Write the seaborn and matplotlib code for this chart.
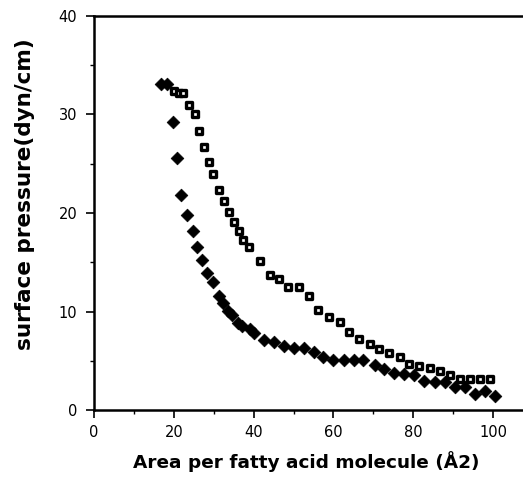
import matplotlib
matplotlib.use("Agg")
import matplotlib.pyplot as plt
import seaborn as sns
import pandas as pd
from matplotlib.ticker import MultipleLocator

# Filled diamonds series
area_a = [16.8, 18.2, 19.7, 20.8, 21.9, 23.4, 24.8, 25.8, 27.1, 28.4, 29.9, 31.2, 32.3,
          33.5, 34.6, 36.0, 37.1, 39.1, 40.0, 42.5, 45.0, 47.7, 50.1, 52.5, 55.1, 57.5,
          60.0, 62.6, 65.1, 67.4, 70.3, 72.7, 75.1, 77.6, 80.2, 82.7, 85.5, 87.9, 90.5,
          93.0, 95.5, 98.0, 100.4]
press_a = [33.1, 33.1, 29.2, 25.6, 21.8, 19.8, 18.2, 16.5, 15.2, 13.9, 13.0, 11.6, 10.9,
           10.05, 9.6, 8.8, 8.5, 8.2, 7.8, 7.1, 6.9, 6.5, 6.3, 6.3, 5.9, 5.4,
           5.1, 5.1, 5.1, 5.1, 4.6, 4.2, 3.8, 3.7, 3.6, 2.9, 2.8, 2.8, 2.3,
           2.3, 1.6, 1.9, 1.45]

# Open squares series
area_b = [20.1, 21.2, 22.4, 23.9, 25.3, 26.4, 27.6, 28.7, 29.9, 31.4, 32.7, 33.9, 35.0,
          36.3, 37.4, 38.8, 41.5, 44.0, 46.3, 48.7, 51.3, 53.8, 56.1, 58.9, 61.6, 63.9,
          66.4, 69.1, 71.4, 73.9, 76.6, 79.0, 81.4, 84.2, 86.7, 89.1, 91.7, 94.3, 96.7, 99.2]
press_b = [32.4, 32.2, 32.2, 31.0, 30.0, 28.3, 26.7, 25.2, 24.0, 22.3, 21.2, 20.1, 19.1,
           18.2, 17.3, 16.5, 15.1, 13.7, 13.3, 12.5, 12.5, 11.6, 10.2, 9.4, 8.9, 7.9,
           7.2, 6.7, 6.2, 5.8, 5.35, 4.7, 4.5, 4.3, 4.0, 3.6, 3.1, 3.1, 3.1, 3.1]

x_ticks = [0, 20, 40, 60, 80, 100]
y_ticks = [0, 10, 20, 30, 40]

sns.set_style("ticks")
plt.rcParams['font.family'] = ['DejaVu Sans']
plt.rcParams['text.color'] = 'black'
plt.rcParams['xtick.color'] = 'black'
plt.rcParams['ytick.color'] = 'black'

df_a = pd.DataFrame({"area": area_a, "pressure": press_a})
df_b = pd.DataFrame({"area": area_b, "pressure": press_b})

fig = plt.figure(figsize=(5.23, 4.86), dpi=100)
ax = fig.add_axes([94/523, 1 - 410/486, 1 - 94/523, (410 - 16)/486])

sns.scatterplot(data=df_b, x="area", y="pressure", ax=ax, marker="s", s=22,
                facecolor="white", edgecolor="black", linewidth=2.4, zorder=3)
sns.scatterplot(data=df_a, x="area", y="pressure", ax=ax, marker="D", s=42,
                color="black", edgecolor="black", linewidth=0.5, zorder=4)

ax.set_xlim(0, 107.5)
ax.set_ylim(0, 40)
ax.set_xticks(x_ticks)
ax.set_yticks(y_ticks)
ax.xaxis.set_minor_locator(MultipleLocator(10))
ax.yaxis.set_minor_locator(MultipleLocator(5))
ax.tick_params(axis="both", which="major", direction="out", length=6, width=1.2,
               labelsize=10.5, colors="black", labelcolor="black")
ax.tick_params(axis="both", which="minor", direction="out", length=3, width=1)
ax.tick_params(axis="x", which="major", pad=5)
ax.tick_params(axis="y", which="major", pad=6)

for side in ["left", "bottom", "top"]:
    ax.spines[side].set_linewidth(1.8)
    ax.spines[side].set_color("black")
ax.spines["right"].set_visible(False)

ax.set_xlabel("")
ax.set_ylabel("")
fig.text(306/523, 1 - 462/486, "Area per fatty acid molecule (Å2)", ha="center",
         va="center", fontsize=13.3, fontweight="bold", color="black")
fig.text(25/523, 1 - 194/486, "surface pressure(dyn/cm)", ha="center", va="center",
         rotation=90, fontsize=15.5, fontweight="bold", color="black")

fig.savefig("out.png", dpi=100)
